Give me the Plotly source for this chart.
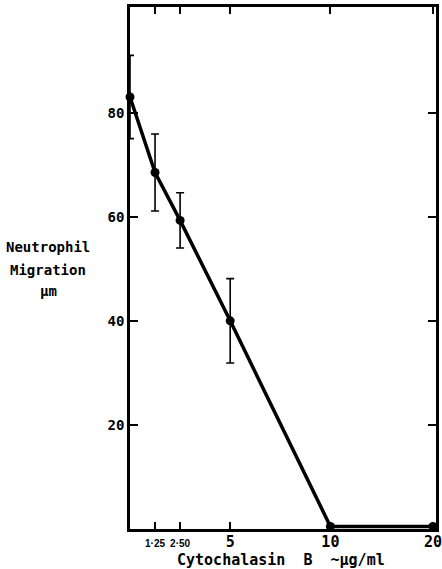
import plotly.graph_objects as go

# Data
dose = [0, 1.25, 2.5, 5, 10, 20]                 # Cytochalasin B, µg/ml
migration = [83, 68.5, 59.3, 40, 0.5, 0.5]       # neutrophil migration, µm
err = [8, 7.4, 5.3, 8.1, 0, 0]                   # error bar half-length
x_ticks = [1.25, 2.5, 5, 10, 20]
x_ticktext = ["1·25", "2·50", "5", "10", "20"]
y_ticks = [20, 40, 60, 80]
y_title_lines = ["Neutrophil", "Migration", "µm"]
x_title = "Cytochalasin  B  ~µg/ml"


def axis_pos(d):
    # axis is linear up to 10, then compressed between 10 and 20
    return d if d <= 10 else 10 + (d - 10) * 0.512


FONT = "DejaVu Sans Mono, monospace"

W, H = 442, 569
L, R, T, B = 130, 6, 7, 40
plot_w = W - L - R
plot_h = H - T - B


def px_x(sx):
    return (sx - L) / plot_w


def px_y(sy):
    return (H - B - sy) / plot_h


small = {"1·25", "2·50"}
ticktext = [
    f"<span style='font-size:10px;font-family:Liberation Sans'>{t}</span>" if t in small else t
    for t in x_ticktext
]

fig = go.Figure()
fig.add_trace(go.Scatter(
    x=[axis_pos(d) for d in dose],
    y=migration,
    mode="lines+markers",
    line=dict(color="black", width=3.5),
    marker=dict(color="black", size=9),
    error_y=dict(type="data", array=err, visible=True, color="black",
                 thickness=1.6, width=4),
    cliponaxis=False,
    showlegend=False,
))

fig.update_layout(
    width=W, height=H,
    margin=dict(l=L, r=R, t=T, b=B, autoexpand=False),
    paper_bgcolor="white", plot_bgcolor="white",
    font=dict(family=FONT, color="black"),
    xaxis=dict(
        range=[0, axis_pos(20) + 0.15],
        tickvals=[axis_pos(v) for v in x_ticks],
        ticktext=ticktext,
        tickangle=0, automargin=False,
        ticklabeloverflow="allow",
        ticklabelstandoff=-3,
        tickfont=dict(size=15, family=FONT, weight="bold"),
        ticks="inside", ticklen=7, tickwidth=2, tickcolor="black",
        showline=True, linecolor="black", linewidth=2.5, mirror="ticks",
        showgrid=False, zeroline=False,
    ),
    yaxis=dict(
        range=[0, 100.3],
        tickvals=y_ticks,
        automargin=False,
        tickfont=dict(size=14, family=FONT, weight="bold"),
        ticks="inside", ticklen=8, tickwidth=2, tickcolor="black",
        showline=True, linecolor="black", linewidth=2.5, mirror="ticks",
        showgrid=False, zeroline=False,
    ),
)

for line_text, sy in zip(y_title_lines, [247, 270, 291]):
    fig.add_annotation(
        text=line_text,
        xref="paper", yref="paper", x=px_x(48), y=px_y(sy),
        xanchor="center", yanchor="middle", showarrow=False,
        font=dict(size=14, family=FONT, weight="bold"),
    )
fig.add_annotation(
    text=x_title,
    xref="paper", yref="paper", x=px_x(281), y=px_y(560),
    xanchor="center", yanchor="middle", showarrow=False,
    font=dict(size=15, family=FONT, weight="bold"),
)

fig.write_html(
    "out.html",
    config={"displayModeBar": False},
    post_script="document.body.style.margin='0';document.body.style.overflow='hidden';",
)
